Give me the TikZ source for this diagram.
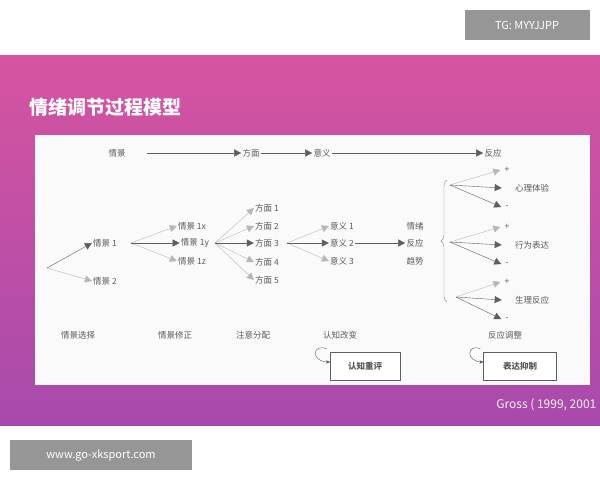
\documentclass[tikz,border=0pt]{standalone}
\usepackage{fontspec}
\setmainfont{Noto Sans CJK SC}
\usepackage{tikz}
\usetikzlibrary{arrows,arrows.meta,decorations.pathreplacing}
\definecolor{slide_top}{RGB}{214,84,160}
\definecolor{slide_bot}{RGB}{168,74,172}
\definecolor{line_gray}{RGB}{95,95,95}
\definecolor{text_gray}{RGB}{90,90,90}
\definecolor{tag_gray}{RGB}{150,150,150}

\begin{document}
\begin{tikzpicture}[x=1pt,y=-1pt,->,semithick,>={Triangle[length=7pt,width=7pt]}]
    \tikzstyle{word}=[text=text_gray,font=\fontsize{8.5}{10}\selectfont,inner sep=1pt]
    \tikzstyle{conn}=[line_gray,thin]
    \tikzstyle{weak}=[line_gray!45,thin]
    \tikzstyle{tag}=[fill=tag_gray,text=white,font=\fontsize{11}{13}\selectfont,inner sep=0pt,minimum height=30pt]
    \tikzstyle{strategy}=[draw=line_gray,thin,fill=white,minimum width=70pt,minimum height=28pt,text=text_gray,font=\fontsize{8.5}{10}\selectfont\bfseries]

    \useasboundingbox (0,0) rectangle (600,480);
    \fill[white] (0,0) rectangle (600,480);
    \shade[top color=slide_top,bottom color=slide_bot,draw=none] (0,55) rectangle (600,425);
    \fill[white!96!gray,draw=none] (35,135) rectangle (590,385);

    \node[tag,minimum width=125pt] (tg) at (527,25) {TG: MYYJJPP};
    \node[tag,minimum width=182pt] (www) at (101,455) {www.go-xksport.com};
    \node[anchor=west,text=white,font=\fontsize{19}{22}\selectfont\bfseries] (title) at (26,107) {情绪调节过程模型};
    \node[anchor=east,text=white!92!gray,font=\fontsize{12}{14}\selectfont] (gross) at (600,405) {Gross ( 1999, 2001};

    % top row
    \node[word] (sit) at (117,153) {情景};
    \node[word] (asp) at (251,153) {方面};
    \node[word] (mea) at (322,153) {意义};
    \node[word] (res) at (493,153) {反应};
    \path[conn]
     (sit.east) ++(20,0) edge (asp)
     (asp) edge (mea)
     (mea) edge (res);

    % situations
    \coordinate (s0) at (47,268);
    \node[word] (s1) at (105,243) {情景 1};
    \node[word] (s2) at (105,281) {情景 2};
    \path (s0) edge[conn] (s1.west) (s0) edge[weak] (s2.west);

    \node[word] (s1x) at (192,226) {情景 1x};
    \node[word] (s1y) at (195,243) {情景 1y};
    \node[word] (s1z) at (192,261) {情景 1z};
    \coordinate (s1o) at (131,243);
    \foreach \n in {s1x,s1z} \path (s1o) edge[weak] (\n.west);
    \path (s1o) edge[conn] (s1y.west);

    \foreach \i/\y in {1/208,2/226,3/243,4/262,5/280}
      \node[word] (a\i) at (267,\y) {方面 \i};
    \coordinate (s1yo) at (215,243);
    \foreach \i in {1,2,4,5} \path (s1yo) edge[weak] (a\i.west);
    \path (s1yo) edge[conn] (a3.west);

    \foreach \i/\y in {1/226,2/243,3/261}
      \node[word] (m\i) at (342,\y) {意义 \i};
    \coordinate (a3o) at (287,243);
    \foreach \i in {1,3} \path (a3o) edge[weak] (m\i.west);
    \path (a3o) edge[conn] (m2.west);

    \node[word] (emo) at (415,226) {情绪};
    \node[word] (rsp) at (415,243) {反应};
    \node[word] (trd) at (415,261) {趋势};
    \path (m2) edge[conn] (rsp);
    \draw[-,line_gray!70,thin,decorate,decoration={brace,amplitude=6pt}]
      (447,302) -- (447,180);

    % responses
    \foreach \k/\lab/\y/\sx in {1/心理体验/188/450,2/行为表达/245/450,3/生理反应/300/456} {
      \coordinate (r\k o) at (\sx,\y-3);
      \node[word] (rp\k) at (507,\y-18) {+};
      \node[word] (r\k) at (532,\y) {\lab};
      \node[word] (rm\k) at (507,\y+19) {-};
      \path (r\k o) edge[weak] ([xshift=-3pt]rp\k.west)
            (r\k o) edge[conn] ([xshift=-12pt]r\k.west)
            (r\k o) edge[conn] ([xshift=-3pt]rm\k.west);
    }

    % stages
    \node[word] (st1) at (78,335) {情景选择};
    \node[word] (st2) at (175,335) {情景修正};
    \node[word] (st3) at (253,335) {注意分配};
    \node[word] (st4) at (340,335) {认知改变};
    \node[word] (st5) at (505,335) {反应调整};

    \node[strategy] (reap) at (365,366) {认知重评};
    \node[strategy,minimum width=73pt] (supp) at (520,366) {表达抑制};
    \draw[line_gray,thin,>=stealth'] ([xshift=-3pt]reap.north west) ++(0,-3)
      .. controls (312,343) and (310,362) .. ([yshift=4pt]reap.west);
    \draw[line_gray,thin,>=stealth'] ([xshift=-3pt]supp.north west) ++(0,-3)
      .. controls (467,343) and (465,362) .. ([yshift=4pt]supp.west);
\end{tikzpicture}
\end{document}
